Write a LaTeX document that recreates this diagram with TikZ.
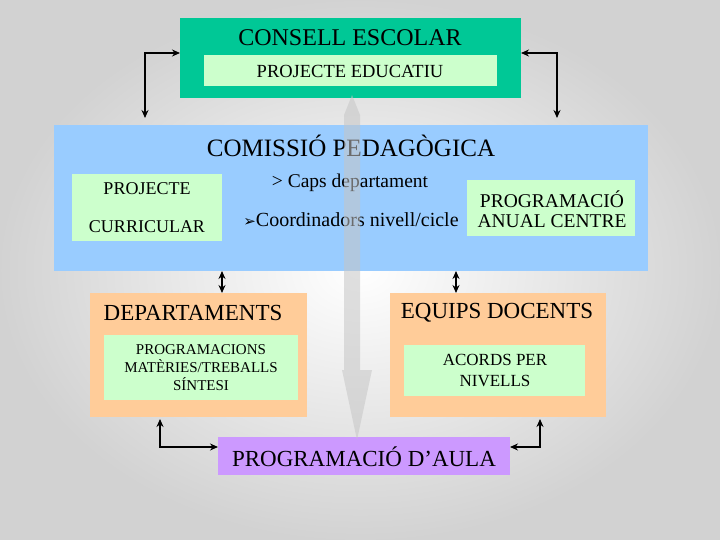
\documentclass[tikz,border=0pt]{standalone}
\usepackage{fontspec}
\setmainfont{Liberation Serif}
\newfontfamily\djv{DejaVu Sans}
\usetikzlibrary{arrows.meta}
\definecolor{teal}{HTML}{00C896}
\definecolor{lgreen}{HTML}{CCFFCC}
\definecolor{lblue}{HTML}{99CCFF}
\definecolor{orng}{HTML}{FFCC99}
\definecolor{purp}{HTML}{CC99FF}
\newcommand{\fs}[1]{\fontsize{#1}{#1}\selectfont}
\begin{document}
\begin{tikzpicture}[x=1pt,y=-1pt,
  box/.style={inner sep=0pt},
  conn/.style={line width=2pt,{Stealth[length=8pt,width=7pt]}-{Stealth[length=8pt,width=7pt]}}]
\useasboundingbox (0,0) rectangle (720,540);
\shade[inner color=white,outer color=gray!35] (0,0) rectangle (720,540);
% boxes
\fill[teal] (180,18) rectangle (521,98);
\node[box,font=\fs{24}] (cons) at (350,38) {CONSELL ESCOLAR};
\fill[lgreen] (204,55) rectangle (497,86);
\node[box,font=\fs{18.5}] (pe) at (350,71) {PROJECTE EDUCATIU};
\fill[lblue] (54,125) rectangle (648,271);
\node[box,font=\fs{25}] (com) at (351,146) {COMISSIÓ PEDAGÒGICA};
\fill[lgreen] (72,174) rectangle (222,241);
\node[box,font=\fs{18}] (pc1) at (147,189) {PROJECTE};
\node[box,font=\fs{18}] (pc2) at (147,227) {CURRICULAR};
\node[box,font=\fs{19.5}] (caps) at (350,183) {> Caps departament};
\node[box,font=\fs{20}] (coord) at (351,220) {{\djv\fs{15}➢}Coordinadors nivell/cicle};
\fill[lgreen] (467,180) rectangle (635,236);
\node[box,font=\fs{19.5}] (pa1) at (552,199) {PROGRAMACIÓ};
\node[box,font=\fs{19.5}] (pa2) at (552,221) {ANUAL CENTRE};
\fill[orng] (90,293) rectangle (307,417);
\node[box,font=\fs{23}] (dep) at (193,313) {DEPARTAMENTS};
\fill[lgreen] (104,335) rectangle (298,400);
\node[box,align=center,font=\fs{15}] (prog) at (201,368) {PROGRAMACIONS\\[3pt] MATÈRIES/TREBALLS\\[3pt] SÍNTESI};
\fill[orng] (390,293) rectangle (606,417);
\node[box,font=\fs{23}] (eq) at (497,313) {EQUIPS DOCENTS};
\fill[lgreen] (404,345) rectangle (585,396);
\node[box,align=center,font=\fs{17}] (ac) at (495,370) {ACORDS PER\\[4pt] NIVELLS};
\fill[purp] (218,437) rectangle (510,475);
\node[box,font=\fs{23}] (aula) at (364,457) {PROGRAMACIÓ D’AULA};
% big grey arrow
\fill[gray!45,opacity=0.55] (352,95) -- (360,115) -- (360,370) -- (372,370) -- (357,440) -- (342,370) -- (344,370) -- (344,115) -- cycle;
% connectors
\coordinate (a1) at (180,53); \coordinate (a2) at (145,53); \coordinate (a3) at (145,118);
\draw[conn] (a1) -- (a2) -- (a3);
\coordinate (b1) at (521,53); \coordinate (b2) at (557,53); \coordinate (b3) at (557,118);
\draw[conn] (b1) -- (b2) -- (b3);
\coordinate (c1) at (222,271); \coordinate (c2) at (222,293);
\draw[conn] (c1) -- (c2);
\coordinate (d1) at (456,271); \coordinate (d2) at (456,293);
\draw[conn] (d1) -- (d2);
\coordinate (e1) at (160,419); \coordinate (e2) at (160,447); \coordinate (e3) at (218,447);
\draw[conn] (e1) -- (e2) -- (e3);
\coordinate (f1) at (540,419); \coordinate (f2) at (540,447); \coordinate (f3) at (510,447);
\draw[conn] (f1) -- (f2) -- (f3);
\end{tikzpicture}
\end{document}
